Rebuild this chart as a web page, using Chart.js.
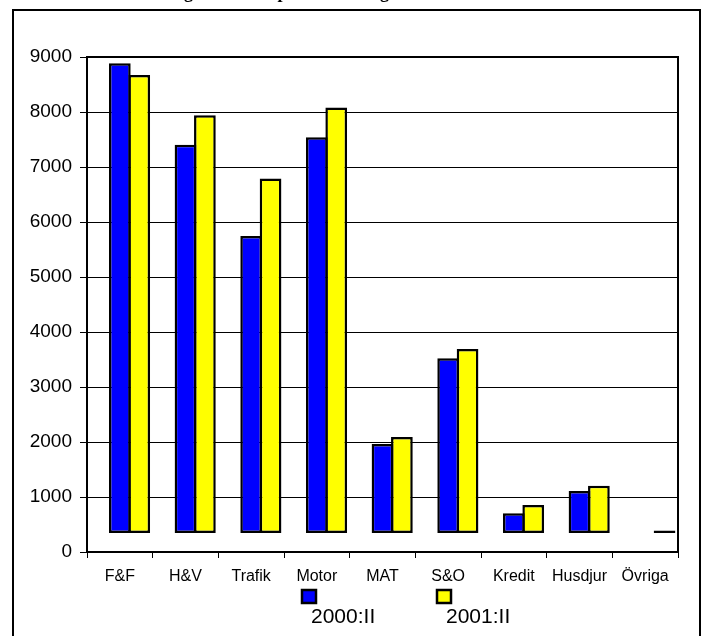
<!DOCTYPE html>
<html>
<head>
<meta charset="utf-8">
<script src="https://cdn.jsdelivr.net/npm/chart.js@4.4.1/dist/chart.umd.min.js"></script>
<style>
  html, body { margin: 0; padding: 0; background: #fff; }
  #wrap { position: relative; width: 704px; height: 636px; overflow: hidden; }
  #frame { position: absolute; left: 12px; top: 9px; width: 689px; height: 700px; border: 2px solid #000; box-sizing: border-box; pointer-events: none; }
  canvas { position: absolute; left: 0; top: 0; }
</style>
</head>
<body>
<div id="wrap">
  <canvas id="stapel" width="704" height="636"></canvas>
  <div id="frame"></div>
</div>
<script>
// Data
const kategorier = ['F&F', 'H&V', 'Trafik', 'Motor', 'MAT', 'S&O', 'Kredit', 'Husdjur', 'Övriga'];
const serieNamn = ['2000:II', '2001:II'];
const varden2000 = [8885, 7405, 5745, 7540, 1965, 3525, 705, 1110, null];
const varden2001 = [8675, 7940, 6790, 8080, 2090, 3690, 855, 1205, 390];
const yMin = 0;
const yMax = 9000;
const ySteg = 1000;
const golv = 345; // staplarna står på denna nivå, inte på noll
const rubrik = 'Fördelning av skador per försäkringsområde';

const serieFarger = ['#0000ff', '#ffff00'];

// rubrik (avskuren i överkant), ram runt diagramytan och förklaring under axeln
const extraPlugin = {
  id: 'extra',
  afterDraw(chart) {
    const { ctx, chartArea: a } = chart;
    ctx.save();

    ctx.font = 'bold 18px "Liberation Serif"';
    ctx.fillStyle = '#000';
    ctx.textAlign = 'left';
    ctx.textBaseline = 'alphabetic';
    ctx.fillText(rubrik, 108, -2);

    ctx.strokeStyle = '#000';
    ctx.lineWidth = 2;
    ctx.beginPath();
    ctx.moveTo(a.left, a.top);
    ctx.lineTo(a.right, a.top);
    ctx.lineTo(a.right, a.bottom);
    ctx.stroke();

    // förklaringen: ruta ovanför texten, som i originalet
    ctx.font = '21px "Liberation Sans"';
    serieNamn.forEach((namn, i) => {
      const x = 302 + i * 135;
      ctx.fillStyle = serieFarger[i];
      ctx.fillRect(x, 590, 14, 13);
      ctx.lineWidth = 2.5;
      ctx.strokeStyle = '#000';
      ctx.strokeRect(x, 590, 14, 13);
      ctx.fillStyle = '#000';
      ctx.fillText(namn, x + 9, 623);
    });
    ctx.restore();
  }
};

new Chart(document.getElementById('stapel'), {
  type: 'bar',
  data: {
    labels: kategorier,
    datasets: [
      { label: '', data: kategorier.map(() => null) }, // tom serie, håller första platsen i gruppen
      { label: serieNamn[0], data: varden2000, backgroundColor: serieFarger[0] },
      { label: serieNamn[1], data: varden2001, backgroundColor: serieFarger[1] }
    ]
  },
  options: {
    responsive: false,
    animation: false,
    layout: { padding: { top: 57, right: 26, left: 0, bottom: 0 } },
    datasets: {
      bar: {
        base: golv,
        borderColor: '#000',
        borderWidth: 2.5,
        borderSkipped: false,
        categoryPercentage: 0.886,
        barPercentage: 1.12
      }
    },
    plugins: {
      legend: { display: false },
      tooltip: { enabled: false }
    },
    scales: {
      x: {
        grid: { offset: true, drawOnChartArea: false, tickLength: 6, color: '#000' },
        border: { color: '#000', width: 2 },
        ticks: {
          color: '#000',
          font: { family: 'Liberation Sans', size: 16 },
          padding: 9,
          maxRotation: 0
        },
        afterFit(s) { s.height = 84; }
      },
      y: {
        min: yMin,
        max: yMax,
        grid: { color: '#000', tickLength: 7 },
        border: { color: '#000', width: 2 },
        ticks: {
          stepSize: ySteg,
          color: '#000',
          font: { family: 'Liberation Sans', size: 19 },
          padding: 8,
          callback: v => String(v)
        },
        afterFit(s) { s.width = 87; }
      }
    }
  },
  plugins: [extraPlugin]
});
</script>
</body>
</html>
